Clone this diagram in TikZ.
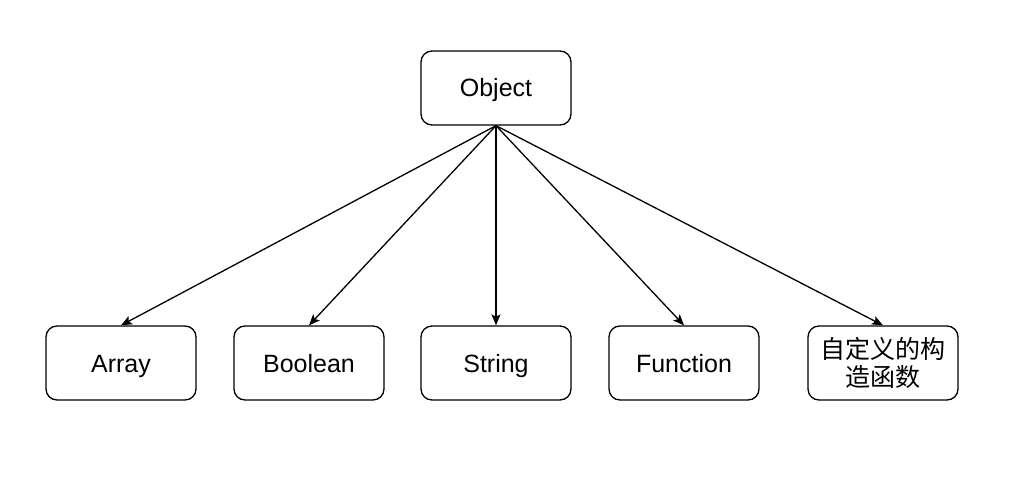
\documentclass[tikz,border=0pt]{standalone}
\usepackage{fontspec}
\setmainfont{Liberation Sans}
\newfontfamily\cjk{Noto Sans CJK SC}
\usetikzlibrary{arrows.meta}
\begin{document}
\begin{tikzpicture}[x=1pt,y=-1pt,
  box/.style={draw,line width=1.3pt,rounded corners=11pt,minimum width=150pt,minimum height=74pt,inner sep=0pt,font=\fontsize{25}{28}\selectfont,align=center},
  one/.style={text height=18pt,text depth=0pt},
  conn/.style={line width=1.3pt,-{Stealth[length=11pt,width=9pt,inset=2.5pt]}}]
\useasboundingbox[fill=white] (0,0) rectangle (1013,484);
\node[box,one] (obj) at (496,88) {Object};
\node[box,one] (arr) at (121,363) {Array};
\node[box,one] (boo) at (309,363) {Boolean};
\node[box,one] (str) at (496,363) {String};
\node[box,one] (fun) at (684,363) {Function};
\node[box] (cus) at (883,363) {\cjk 自定义的构\\\cjk 造函数};
\draw[conn] (obj.south) -- (arr.north);
\draw[conn] (obj.south) -- (boo.north);
\draw[conn] (obj.south) -- (str.north);
\draw[conn] (obj.south) -- (fun.north);
\draw[conn] (obj.south) -- (cus.north);
\end{tikzpicture}
\end{document}
